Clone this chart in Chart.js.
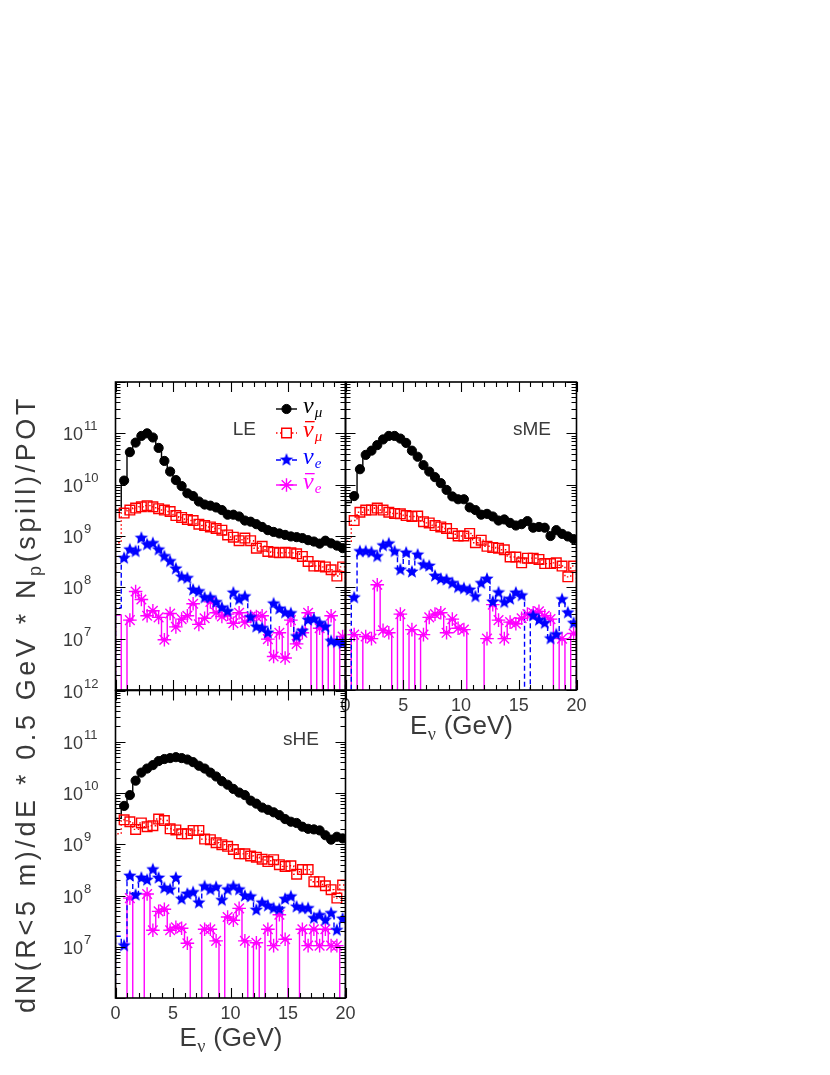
<!DOCTYPE html>
<html>
<head>
<meta charset="utf-8">
<script src="https://cdn.jsdelivr.net/npm/chart.js@4.4.1/dist/chart.umd.min.js"></script>
<style>
html,body{margin:0;padding:0;background:#fff;}
#wrap{position:relative;width:830px;height:1075px;overflow:hidden;background:#fff;}
#wrap canvas{position:absolute;left:0;top:0;}
</style>
</head>
<body>
<div id="wrap">
<canvas id="cLE" width="830" height="1075"></canvas>
<canvas id="cME" width="830" height="1075"></canvas>
<canvas id="cHE" width="830" height="1075"></canvas>
</div>
<script>
// ---------- data ----------
const binCenters = [0.25,0.75,1.25,1.75,2.25,2.75,3.25,3.75,4.25,4.75,5.25,5.75,6.25,6.75,7.25,7.75,8.25,8.75,9.25,9.75,
  10.25,10.75,11.25,11.75,12.25,12.75,13.25,13.75,14.25,14.75,15.25,15.75,16.25,16.75,17.25,17.75,18.25,18.75,19.25,19.75];

const xTickLabels = [0, 5, 10, 15, 20];
const yTickExponents = [7, 8, 9, 10, 11, 12];
const seriesNames = ['nu_mu', 'nu_mu_bar', 'nu_e', 'nu_e_bar'];
const panelNames = ['LE', 'sME', 'sHE'];

// LE
const leNuMu = [3.2e9,1.2e10,4.3e10,6.6e10,8.9e10,1.0e11,8.3e10,5.2e10,2.9e10,1.8e10,
  1.23e10,9.4e9,6.8e9,6.0e9,4.7e9,4.1e9,3.9e9,3.6e9,3.2e9,2.6e9,
  2.6e9,2.4e9,2.0e9,1.9e9,1.7e9,1.5e9,1.3e9,1.2e9,1.12e9,1.05e9,
  9.8e8,9.5e8,9.1e8,8.3e8,7.8e8,7.1e8,8.1e8,7.2e8,6.5e8,5.8e8];
const leNuMuBar = [7.4e8,2.8e9,3.2e9,3.5e9,3.7e9,3.9e9,3.7e9,3.4e9,3.2e9,3.0e9,
  2.5e9,2.3e9,2.1e9,2.0e9,1.7e9,1.6e9,1.5e9,1.4e9,1.3e9,1.05e9,
  9.5e8,8.1e8,9.1e8,8.1e8,5.8e8,6.3e8,5.0e8,4.8e8,4.7e8,4.8e8,
  4.7e8,4.5e8,4.0e8,3.2e8,2.6e8,2.6e8,2.5e8,2.2e8,1.66e8,2.5e8];
const leNuE = [4.0e7,3.7e8,5.4e8,5.0e8,9.1e8,6.8e8,7.2e8,5.4e8,4.0e8,3.2e8,
  2.3e8,1.6e8,1.5e8,8.9e7,8.3e7,6.3e7,6.3e7,5.1e7,4.0e7,3.4e7,
  7.8e7,5.8e7,6.6e7,2.6e7,1.7e7,1.6e7,1.3e7,4.8e7,3.8e7,3.2e7,
  3.1e7,1.1e7,1.4e7,2.3e7,2.4e7,2.0e7,1.7e7,8.9e6,8.5e6,8.1e6];
const leNuEBar = [2.9e7,0,2.3e7,8.3e7,5.8e7,2.8e7,3.5e7,2.6e7,9.5e6,3.1e7,
  1.7e7,2.4e7,2.8e7,4.8e7,1.9e7,2.5e7,5.2e7,3.2e7,2.7e7,3.0e7,
  2.0e7,3.2e7,2.1e7,2.7e7,2.7e7,2.8e7,9.8e6,4.5e6,1.3e7,4.2e6,
  2.3e7,7.9e6,1.3e7,3.2e7,0,1.6e7,0,2.8e7,0,1.1e7];

// sME
const smeNuMu = [4.5e9,6.0e9,2.0e10,3.8e10,4.6e10,5.9e10,7.6e10,8.9e10,8.9e10,7.9e10,
  6.5e10,4.6e10,3.5e10,2.4e10,1.8e10,1.4e10,1.07e10,7.9e9,5.9e9,5.2e9,
  5.2e9,3.6e9,3.2e9,2.6e9,2.7e9,2.4e9,2.0e9,2.1e9,1.8e9,1.6e9,
  1.7e9,1.95e9,1.45e9,1.5e9,1.45e9,1.0e9,1.3e9,1.1e9,9.8e8,8.7e8];
const smeNuMuBar = [7.9e8,2.0e9,2.9e9,3.2e9,3.2e9,3.5e9,3.2e9,2.9e9,2.75e9,2.7e9,
  2.5e9,2.4e9,2.45e9,1.9e9,1.8e9,1.6e9,1.5e9,1.4e9,1.12e9,1.0e9,
  1.0e9,1.12e9,7.4e8,8.3e8,6.3e8,6.0e8,5.8e8,5.4e8,3.9e8,3.9e8,
  3.0e8,3.7e8,3.7e8,3.5e8,2.9e8,2.9e8,3.0e8,2.6e8,1.6e8,2.6e8];
const smeNuE = [0,6.3e7,5.0e8,5.0e8,4.8e8,4.0e8,6.5e8,7.1e8,5.0e8,2.2e8,
  4.7e8,2.0e8,4.3e8,2.75e8,2.6e8,1.66e8,1.45e8,1.4e8,1.2e8,1.0e8,
  9.5e7,8.9e7,6.6e7,1.2e8,1.45e8,5.2e7,7.9e7,5.1e7,5.9e7,7.8e7,
  6.9e7,0,2.8e7,2.3e7,2.0e7,1.0e7,1.2e7,5.8e7,3.2e7,2.0e7];
const smeNuEBar = [0,1.2e7,0,1.1e7,1.0e7,1.12e8,1.45e7,1.3e7,0,3.0e7,
  0,1.5e7,0,1.2e7,2.6e7,3.0e7,3.2e7,1.3e7,2.4e7,1.6e7,
  1.5e7,0,0,0,1.0e7,4.6e7,2.3e7,1.0e7,2.1e7,1.95e7,
  2.5e7,3.0e7,3.2e7,3.4e7,2.8e7,2.4e7,0,1.0e7,0,1.26e7];

// sHE
const sheNuMu = [3.2e9,5.6e9,9.1e9,1.74e10,2.5e10,3.0e10,3.5e10,4.2e10,4.6e10,4.8e10,
  5.0e10,4.8e10,4.5e10,4.0e10,3.4e10,3.0e10,2.5e10,2.1e10,1.7e10,1.45e10,
  1.2e10,1.02e10,9.1e9,7.1e9,6.2e9,5.2e9,4.7e9,4.2e9,3.7e9,3.1e9,
  2.75e9,2.6e9,2.2e9,2.0e9,1.95e9,1.86e9,1.5e9,1.23e9,1.4e9,1.3e9];
const sheNuMuBar = [1.6e9,3.0e9,2.75e9,1.95e9,2.6e9,2.2e9,2.3e9,3.1e9,2.9e9,2.0e9,
  1.9e9,1.6e9,1.6e9,1.86e9,1.86e9,1.26e9,1.23e9,1.07e9,9.8e8,9.1e8,
  7.9e8,6.5e8,6.5e8,5.9e8,5.6e8,5.1e8,4.6e8,5.0e8,4.0e8,3.7e8,
  3.8e8,2.6e8,3.2e8,3.2e8,1.86e8,1.86e8,1.55e8,1.3e8,8.9e7,1.6e8];
const sheNuE = [1.6e7,1.05e7,2.4e8,1.02e8,2.2e8,2.0e8,3.2e8,2.2e8,1.4e8,1.3e8,
  2.2e8,8.5e7,1.07e8,1.15e8,7.2e7,1.5e8,1.3e8,1.45e8,8.1e7,1.3e8,
  1.5e8,1.3e8,9.8e7,9.5e7,5.2e7,7.2e7,6.3e7,5.6e7,5.4e7,8.5e7,
  9.5e7,6.0e7,5.6e7,5.6e7,3.6e7,4.1e7,3.3e7,4.5e7,2.1e7,3.5e7];
const sheNuEBar = [0,0,8.9e7,0,0,1.07e8,2.1e7,4.9e7,5.4e7,2.1e7,
  2.4e7,2.3e7,1.17e7,0,0,2.2e7,2.2e7,1.3e7,0,3.8e7,
  3.3e7,5.6e7,1.3e7,0,1.2e7,0,2.2e7,1.05e7,4.2e7,1.4e7,
  0,0,2.2e7,1.05e7,2.2e7,1.05e7,2.2e7,1.05e7,1.05e7,0];

// ---------- styling ----------
const TXT = '#3a3a3a';
const SANS = '"Liberation Sans", Arial, sans-serif';
const SERIF = '"Liberation Serif", "Times New Roman", serif';

function starImage(color, R) {
  const s = Math.ceil(R * 2 + 2);
  const c = document.createElement('canvas');
  c.width = s; c.height = s;
  const g = c.getContext('2d');
  g.fillStyle = color;
  g.beginPath();
  for (let k = 0; k < 10; k++) {
    const r = (k % 2) ? R * 0.42 : R;
    const ang = -Math.PI / 2 + k * Math.PI / 5;
    const px = s / 2 + r * Math.cos(ang), py = s / 2 + r * Math.sin(ang);
    if (k === 0) g.moveTo(px, py); else g.lineTo(px, py);
  }
  g.closePath();
  g.fill();
  return c;
}
const blueStar = starImage('#0000ff', 7);

const seriesStyles = [
  { color: '#000000', pointStyle: 'circle', radius: 4.6, fill: '#000000', borderWidth: 1, dash: [], legendFill: '#000000', sub: 'μ', anti: false },
  { color: '#ff0000', pointStyle: 'rect', radius: 6.8, fill: 'rgba(0,0,0,0)', borderWidth: 1.4, dash: [1.5, 2.5], legendFill: '#ffffff', sub: 'μ', anti: true },
  { color: '#0000ff', pointStyle: blueStar, radius: 5, fill: '#0000ff', borderWidth: 0, dash: [5, 3], legendFill: '#0000ff', sub: 'e', anti: false },
  { color: '#ff00ff', pointStyle: 'star', radius: 6.8, fill: 'rgba(0,0,0,0)', borderWidth: 1.4, dash: [], legendFill: 'rgba(0,0,0,0)', sub: 'e', anti: true }
];

function makeDatasets(seriesList) {
  return seriesList.map((vals, k) => {
    const st = seriesStyles[k];
    return {
      label: seriesNames[k],
      data: binCenters.map((c, i) => ({ x: c, y: vals[i] })),
      pointStyle: st.pointStyle,
      pointRadius: (ctx) => (ctx.dataIndex === 0 || !ctx.raw || ctx.raw.y === 0) ? 0 : st.radius,
      pointBackgroundColor: st.fill,
      pointBorderColor: st.color,
      pointBorderWidth: st.borderWidth,
      showLine: false,
      histColor: st.color,
      histDash: st.dash,
      styleIndex: k
    };
  });
}

// histogram outline drawn from the dataset values through the chart's scales
const histPlugin = {
  id: 'histOutline',
  beforeDatasetsDraw(chart) {
    const { ctx, chartArea: a, scales: { x, y } } = chart;
    ctx.save();
    ctx.beginPath();
    ctx.rect(a.left, a.top, a.right - a.left, a.bottom - a.top);
    ctx.clip();
    chart.data.datasets.slice().reverse().forEach(ds => {
      const pts = ds.data;
      const n = pts.length;
      const edge = (i) => {
        if (i === 0) return pts[0].x - (pts[1].x - pts[0].x) / 2;
        if (i === n) return pts[n - 1].x + (pts[n - 1].x - pts[n - 2].x) / 2;
        return (pts[i - 1].x + pts[i].x) / 2;
      };
      const py = (v) => v > 0 ? y.getPixelForValue(v) : a.bottom + 2;
      ctx.beginPath();
      ctx.strokeStyle = ds.histColor;
      ctx.lineWidth = 1.4;
      ctx.setLineDash(ds.histDash);
      ctx.moveTo(x.getPixelForValue(edge(0)), a.bottom + 2);
      for (let i = 0; i < n; i++) {
        const yy = py(pts[i].y);
        ctx.lineTo(x.getPixelForValue(edge(i)), yy);
        ctx.lineTo(x.getPixelForValue(edge(i + 1)), yy);
      }
      ctx.lineTo(x.getPixelForValue(edge(n)), a.bottom + 2);
      ctx.stroke();
    });
    ctx.restore();
  }
};

// ROOT-like frame with inward ticks on all four sides
const framePlugin = {
  id: 'rootFrame',
  afterDatasetsDraw(chart) {
    const { ctx, chartArea: a, scales: { x, y } } = chart;
    ctx.save();
    ctx.strokeStyle = '#000';
    ctx.setLineDash([]);
    ctx.lineWidth = 1.1;
    ctx.beginPath();
    for (let v = x.min; v <= x.max + 1e-9; v += 1) {
      const px = Math.round(x.getPixelForValue(v)) + 0.5;
      const len = (v % 5 === 0) ? 10 : 5;
      ctx.moveTo(px, a.bottom); ctx.lineTo(px, a.bottom - len);
      ctx.moveTo(px, a.top); ctx.lineTo(px, a.top + len);
    }
    const dMin = Math.round(Math.log10(y.min)), dMax = Math.round(Math.log10(y.max));
    for (let d = dMin; d <= dMax; d++) {
      for (let k = 1; k <= 9; k++) {
        if (d === dMax && k > 1) break;
        const py = Math.round(y.getPixelForValue(k * Math.pow(10, d))) + 0.5;
        const len = (k === 1) ? 10 : 5;
        ctx.moveTo(a.left, py); ctx.lineTo(a.left + len, py);
        ctx.moveTo(a.right, py); ctx.lineTo(a.right - len, py);
      }
    }
    ctx.stroke();
    ctx.lineWidth = 1.6;
    ctx.strokeRect(a.left, a.top, a.right - a.left, a.bottom - a.top);
    ctx.restore();
  }
};

function drawETitle(ctx, cx, baseline) {
  const f1 = '26px ' + SANS, f2 = '18px ' + SERIF;
  ctx.font = f1; const wE = ctx.measureText('E').width; const wR = ctx.measureText(' (GeV)').width;
  ctx.font = f2; const wN = ctx.measureText('ν').width;
  let x0 = cx - (wE + wN + wR) / 2;
  ctx.textAlign = 'left';
  ctx.font = f1; ctx.fillText('E', x0, baseline);
  ctx.font = f2; ctx.fillText('ν', x0 + wE + 0.5, baseline + 6);
  ctx.font = f1; ctx.fillText(' (GeV)', x0 + wE + wN + 1, baseline);
}

function drawYTitle(ctx, xBase, yCenter, length) {
  const segs = [
    { t: 'dN(R<5 m)/dE * 0.5 GeV * N', f: '27px ' + SANS, dy: 0 },
    { t: 'p', f: '18px ' + SANS, dy: 6 },
    { t: '(spill)/POT', f: '27px ' + SANS, dy: 0 }
  ];
  ctx.save();
  ctx.translate(xBase, yCenter);
  ctx.rotate(-Math.PI / 2);
  ctx.textAlign = 'left';
  ctx.textBaseline = 'alphabetic';
  let W = 0, nChars = 0;
  segs.forEach(s => { ctx.font = s.f; s.w = ctx.measureText(s.t).width; W += s.w; nChars += s.t.length; });
  const hasLS = ('letterSpacing' in ctx);
  const ls = hasLS ? (length - W) / nChars : 0;
  if (!hasLS) ctx.scale(length / W, 1);
  let xx = hasLS ? -length / 2 : -W / 2;
  segs.forEach(s => {
    ctx.font = s.f;
    if (hasLS) ctx.letterSpacing = ls + 'px';
    ctx.fillText(s.t, xx, s.dy);
    xx += s.w + (hasLS ? ls * s.t.length : 0);
  });
  if (hasLS) ctx.letterSpacing = '0px';
  ctx.restore();
}

const textPlugin = {
  id: 'rootText',
  afterDraw(chart, args, o) {
    const { ctx, chartArea: a, scales: { x, y } } = chart;
    ctx.save();
    ctx.fillStyle = TXT;
    ctx.textBaseline = 'alphabetic';
    // y tick labels 10^n
    (o.yExps || []).forEach(e => {
      const py = y.getPixelForValue(Math.pow(10, e));
      ctx.textAlign = 'left';
      ctx.font = '18px ' + SANS;
      ctx.fillText('10', o.yLabelX, py + 7);
      const w = ctx.measureText('10').width;
      ctx.font = '13px ' + SANS;
      ctx.fillText(String(e), o.yLabelX + w + 1, py - 3);
    });
    // x tick labels
    if (o.xLabels) {
      ctx.font = '18px ' + SANS;
      ctx.textAlign = 'center';
      xTickLabels.forEach(v => {
        ctx.fillText(String(v), x.getPixelForValue(v), a.bottom + 21);
      });
      drawETitle(ctx, (a.left + a.right) / 2, a.bottom + o.titleDy);
    }
    // panel name
    ctx.font = '19px ' + SANS;
    ctx.textAlign = 'right';
    ctx.fillText(o.name, o.nameX, a.top + o.nameDy);
    // legend
    if (o.legend) {
      const L = o.legend;
      chart.data.datasets.forEach((ds, k) => {
        const st = seriesStyles[ds.styleIndex];
        const yy = L.rows[k];
        ctx.save();
        ctx.strokeStyle = st.color; ctx.lineWidth = 1.4; ctx.setLineDash(st.dash);
        ctx.beginPath(); ctx.moveTo(L.x - L.half, yy); ctx.lineTo(L.x + L.half, yy); ctx.stroke();
        ctx.setLineDash([]);
        ctx.fillStyle = st.legendFill; ctx.strokeStyle = st.color; ctx.lineWidth = st.borderWidth || 1;
        Chart.helpers.drawPoint(ctx, { pointStyle: st.pointStyle, radius: st.radius, rotation: 0, borderWidth: st.borderWidth }, L.x, yy);
        ctx.restore();
        ctx.fillStyle = st.color;
        ctx.textAlign = 'left';
        ctx.font = 'italic 24px ' + SERIF;
        ctx.fillText('ν', L.textX, yy + 4);
        const wn = ctx.measureText('ν').width;
        if (st.anti) {
          ctx.fillRect(L.textX + 2, yy - 12, wn - 1, 1.3);
        }
        ctx.font = 'italic 15px ' + SERIF;
        ctx.fillText(st.sub, L.textX + wn + 1, yy + 8);
      });
    }
    // y axis title
    if (o.yTitle) {
      ctx.fillStyle = TXT;
      drawYTitle(ctx, o.yTitle.x, o.yTitle.y, o.yTitle.length);
    }
    ctx.restore();
  }
};

function makePanel(id, area, seriesList, textOpts) {
  const W = 830, H = 1075;
  return new Chart(document.getElementById(id), {
    type: 'scatter',
    data: { datasets: makeDatasets(seriesList) },
    options: {
      responsive: false,
      animation: false,
      events: [],
      layout: { padding: { left: area.left, top: area.top, right: W - area.right, bottom: H - area.bottom } },
      scales: {
        x: { type: 'linear', min: 0, max: 20, display: false },
        y: { type: 'logarithmic', min: 1e6, max: 1e12, display: false }
      },
      plugins: {
        legend: { display: false },
        tooltip: { enabled: false },
        rootText: textOpts
      }
    },
    plugins: [histPlugin, framePlugin, textPlugin]
  });
}

makePanel('cLE', { left: 115.5, top: 382, right: 345.5, bottom: 690 },
  [leNuMu, leNuMuBar, leNuE, leNuEBar],
  { name: panelNames[0], nameX: 256, nameDy: 53, yExps: yTickExponents.slice(0, 5), yLabelX: 63, xLabels: false,
    legend: { x: 286.5, half: 10.5, textX: 303, rows: [409, 433, 460, 485] } });

makePanel('cME', { left: 345.5, top: 382, right: 576.5, bottom: 690 },
  [smeNuMu, smeNuMuBar, smeNuE, smeNuEBar],
  { name: panelNames[1], nameX: 551, nameDy: 53, yExps: [], yLabelX: 63, xLabels: true, titleDy: 44 });

makePanel('cHE', { left: 115.5, top: 690.5, right: 345.5, bottom: 998 },
  [sheNuMu, sheNuMuBar, sheNuE, sheNuEBar],
  { name: panelNames[2], nameX: 319, nameDy: 54, yExps: yTickExponents, yLabelX: 63, xLabels: true, titleDy: 48,
    yTitle: { x: 35, y: 704, length: 618 } });
</script>
</body>
</html>
